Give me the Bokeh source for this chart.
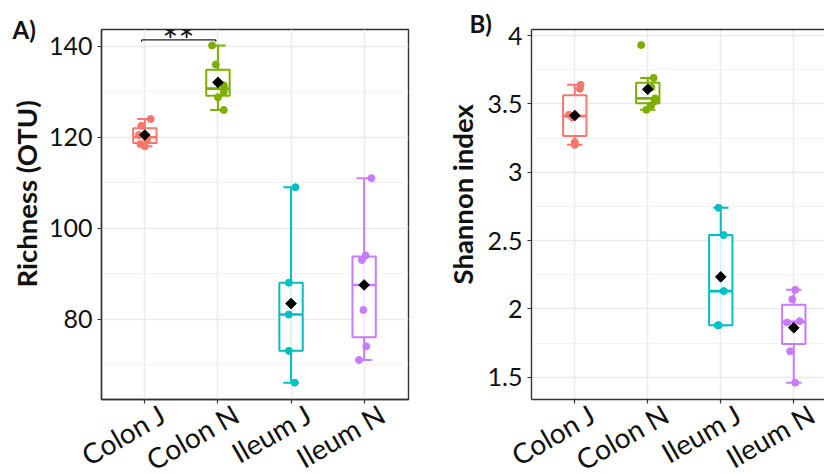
import math
import numpy as np
from bokeh.plotting import figure
from bokeh.layouts import row, column
from bokeh.models import FixedTicker, Range1d, LinearAxis, Label, Title
from bokeh.core.properties import value
from bokeh.embed import file_html
from bokeh.resources import INLINE

# Sample groups and their colours
groups = ["Colon J", "Colon N", "Ileum J", "Ileum N"]
colors = ["#F8766D", "#7CAE00", "#00BFC4", "#C77CFF"]

# Richness (OTU) per sample
richness_colon_j = [124.0, 122.5, 120.5, 119.5, 118.5, 118.0]
richness_colon_n = [140.2, 136.0, 131.4, 130.0, 128.8, 126.0]
richness_ileum_j = [109.0, 88.0, 81.0, 73.0, 66.0]
richness_ileum_n = [111.0, 94.0, 93.0, 82.0, 74.0, 71.0]

# Shannon index per sample
shannon_colon_j = [3.64, 3.61, 3.42, 3.40, 3.22, 3.20]
shannon_colon_n = [3.93, 3.69, 3.62, 3.54, 3.52, 3.49, 3.456]
shannon_ileum_j = [2.74, 2.54, 2.13, 1.88, 1.88]
shannon_ileum_n = [2.14, 2.07, 1.91, 1.90, 1.69, 1.46]

# Horizontal jitter of the sample points (category units)
jitter_richness = [
    [0.08, -0.05, -0.08, 0.03, -0.06, 0.0],
    [-0.08, -0.03, 0.08, 0.08, 0.0, 0.08],
    [0.06, -0.03, -0.03, -0.03, 0.05],
    [0.10, 0.02, -0.03, -0.01, 0.03, -0.07],
]
jitter_shannon = [
    [0.08, 0.07, -0.08, -0.03, 0.0, 0.0],
    [-0.09, 0.08, 0.05, 0.10, 0.10, 0.05, -0.02],
    [-0.03, 0.04, 0.04, -0.04, -0.03],
    [0.02, -0.02, 0.08, -0.09, -0.05, 0.02],
]

# Axis ticks
richness_ticks = [80, 100, 120, 140]
richness_minor = [70, 90, 110, 130]
shannon_ticks = [1.5, 2, 2.5, 3, 3.5, 4]
shannon_minor = [1.75, 2.25, 2.75, 3.25, 3.75]

FONT = "Lato"
TXT = "#111111"
BOX_W = 0.32
CAP_W = 0.21
FRAME_COL = "#333333"

# layout (pixels)
TOP, FRAME_H, BOTTOM = 29, 370, 6
LAB_H = 473 - TOP - FRAME_H - BOTTOM
LEFT = 101
X0 = -0.593


def box_stats(vals):
    v = np.sort(np.asarray(vals, dtype=float))
    q1, med, q3 = np.percentile(v, [25, 50, 75])
    iqr = q3 - q1
    lo = v[v >= q1 - 1.5 * iqr].min()
    hi = v[v <= q3 + 1.5 * iqr].max()
    return q1, med, q3, lo, hi, v.mean()


def make_panel(series, jitters, x_end, y_range, ticks, minor, width, min_right, full_box):
    p = figure(width=width, height=TOP + FRAME_H + BOTTOM, output_backend="svg",
               toolbar_location=None,
               x_range=Range1d(X0, x_end), y_range=Range1d(*y_range),
               min_border_left=LEFT, min_border_right=min_right,
               min_border_top=TOP, min_border_bottom=BOTTOM)
    p.background_fill_color = "white"
    p.border_fill_color = "white"

    # grid
    p.xaxis.ticker = FixedTicker(ticks=[0, 1, 2, 3])
    p.yaxis.ticker = FixedTicker(ticks=ticks, minor_ticks=minor)
    p.xgrid.grid_line_color = "#EBEBEB"
    p.xgrid.grid_line_width = 1.6
    p.ygrid.grid_line_color = "#EBEBEB"
    p.ygrid.grid_line_width = 1.6
    p.ygrid.minor_grid_line_color = "#F2F2F2"
    p.ygrid.minor_grid_line_width = 1.0

    # axes
    for ax in (p.xaxis[0], p.yaxis[0]):
        ax.axis_line_color = FRAME_COL
        ax.axis_line_width = 1.4
        ax.major_tick_line_color = FRAME_COL
        ax.major_tick_line_width = 1.2
        ax.major_tick_out = 4
        ax.major_tick_in = 0
        ax.minor_tick_line_color = None
        ax.major_label_text_font = FONT
        ax.major_label_text_font_size = "25px"
        ax.major_label_text_color = TXT
    # category names are drawn beneath, in their own strip
    p.xaxis.major_label_text_font_size = "0px"
    p.xaxis.major_label_standoff = 0
    p.xaxis.major_label_overrides = {i: "" for i in range(4)}
    p.yaxis.major_label_standoff = 5

    if full_box:
        p.outline_line_color = FRAME_COL
        p.outline_line_width = 1.4
    else:
        p.outline_line_color = None
        top = LinearAxis(ticker=FixedTicker(ticks=[]),
                         axis_line_color=FRAME_COL, axis_line_width=1.4,
                         major_tick_line_color=None, minor_tick_line_color=None,
                         major_tick_out=0, major_tick_in=0, major_label_standoff=0,
                         major_label_text_font_size="0px")
        p.add_layout(top, "above")

    for i, (vals, jit, col) in enumerate(zip(series, jitters, colors)):
        q1, med, q3, lo, hi, mean = box_stats(vals)
        # error bar with caps
        p.segment(x0=[i], y0=[lo], x1=[i], y1=[hi], line_color=col, line_width=2)
        p.segment(x0=[i - CAP_W / 2] * 2, y0=[lo, hi],
                  x1=[i + CAP_W / 2] * 2, y1=[lo, hi],
                  line_color=col, line_width=2)
        # box
        p.quad(left=[i - BOX_W / 2], right=[i + BOX_W / 2], bottom=[q1], top=[q3],
               fill_color="white", fill_alpha=0.85, line_color=col, line_width=2)
        p.segment(x0=[i - BOX_W / 2], y0=[med], x1=[i + BOX_W / 2], y1=[med],
                  line_color=col, line_width=2.6)
        # samples
        p.scatter(x=[i + j for j in jit], y=vals, size=7, marker="circle",
                  fill_color=col, line_color=col)
        # mean
        p.scatter(x=[i], y=[mean], marker="square", angle=math.pi / 4, size=7.5,
                  fill_color="black", line_color="black")
    return p


def make_label_strip(width, frame_w, x_end, min_right):
    """Strip under a panel holding the slanted category names."""
    px = frame_w / (x_end - X0)
    s = figure(width=width, height=LAB_H, output_backend="svg", toolbar_location=None,
               x_range=Range1d(X0 - LEFT / px, x_end + min_right / px),
               y_range=Range1d(0, LAB_H), x_axis_type=None, y_axis_type=None,
               min_border_left=0, min_border_right=0,
               min_border_top=0, min_border_bottom=0)
    s.title.visible = False
    s.grid.visible = False
    s.outline_line_color = None
    s.background_fill_color = "white"
    s.border_fill_color = "white"
    s.text(x=[i + 18 / px for i in range(len(groups))], y=[LAB_H - 6] * len(groups),
           text=groups, angle=math.radians(30), text_align="right",
           text_baseline="alphabetic",
           text_font=value(FONT), text_font_size="28px", text_color=TXT)
    return s


A_END, B_END = 3.607, 3.421
pa = make_panel([richness_colon_j, richness_colon_n, richness_ileum_j, richness_ileum_n],
                jitter_richness, A_END, (62.3, 143.7), richness_ticks, richness_minor,
                430, 22, True)
pb = make_panel([shannon_colon_j, shannon_colon_n, shannon_ileum_j, shannon_ileum_n],
                jitter_shannon, B_END, (1.337, 4.044), shannon_ticks, shannon_minor,
                394, 0, False)

# y axis titles
pa.add_layout(Title(text="Richness (OTU)", align="left", offset=112, standoff=6,
                    text_font=FONT, text_font_style="bold", text_font_size="27.5px",
                    text_color=TXT), "left")
pb.add_layout(Title(text="Shannon index", align="left", offset=115, standoff=12,
                    text_font=FONT, text_font_style="bold", text_font_size="27.5px",
                    text_color=TXT), "left")

# panel letters
pa.add_layout(Title(text="A)", align="left", offset=-89, standoff=-29,
                    text_font=FONT, text_font_style="bold", text_font_size="24px",
                    text_color=TXT), "above")
pb.add_layout(Title(text="B)", align="left", offset=-62, standoff=-17,
                    text_font=FONT, text_font_style="bold", text_font_size="24px",
                    text_color=TXT), "above")

# significance bracket between the colon groups
pa.segment(x0=[-0.045, -0.045, 0.97], y0=[141.4, 141.4, 141.4],
           x1=[0.97, -0.045, 0.97], y1=[141.4, 141.0, 141.0],
           line_color="#222222", line_width=1.2)
pa.add_layout(Label(x=0.46, y=141.3, text="**", text_align="center",
                    text_baseline="middle", text_font=FONT,
                    text_font_size="38px", text_color=TXT))

sa = make_label_strip(430, 307, A_END, 22)
sb = make_label_strip(394, 293, B_END, 0)

layout = column(row(pa, pb), row(sa, sb))
open("out.html", "w").write(file_html(layout, INLINE))
